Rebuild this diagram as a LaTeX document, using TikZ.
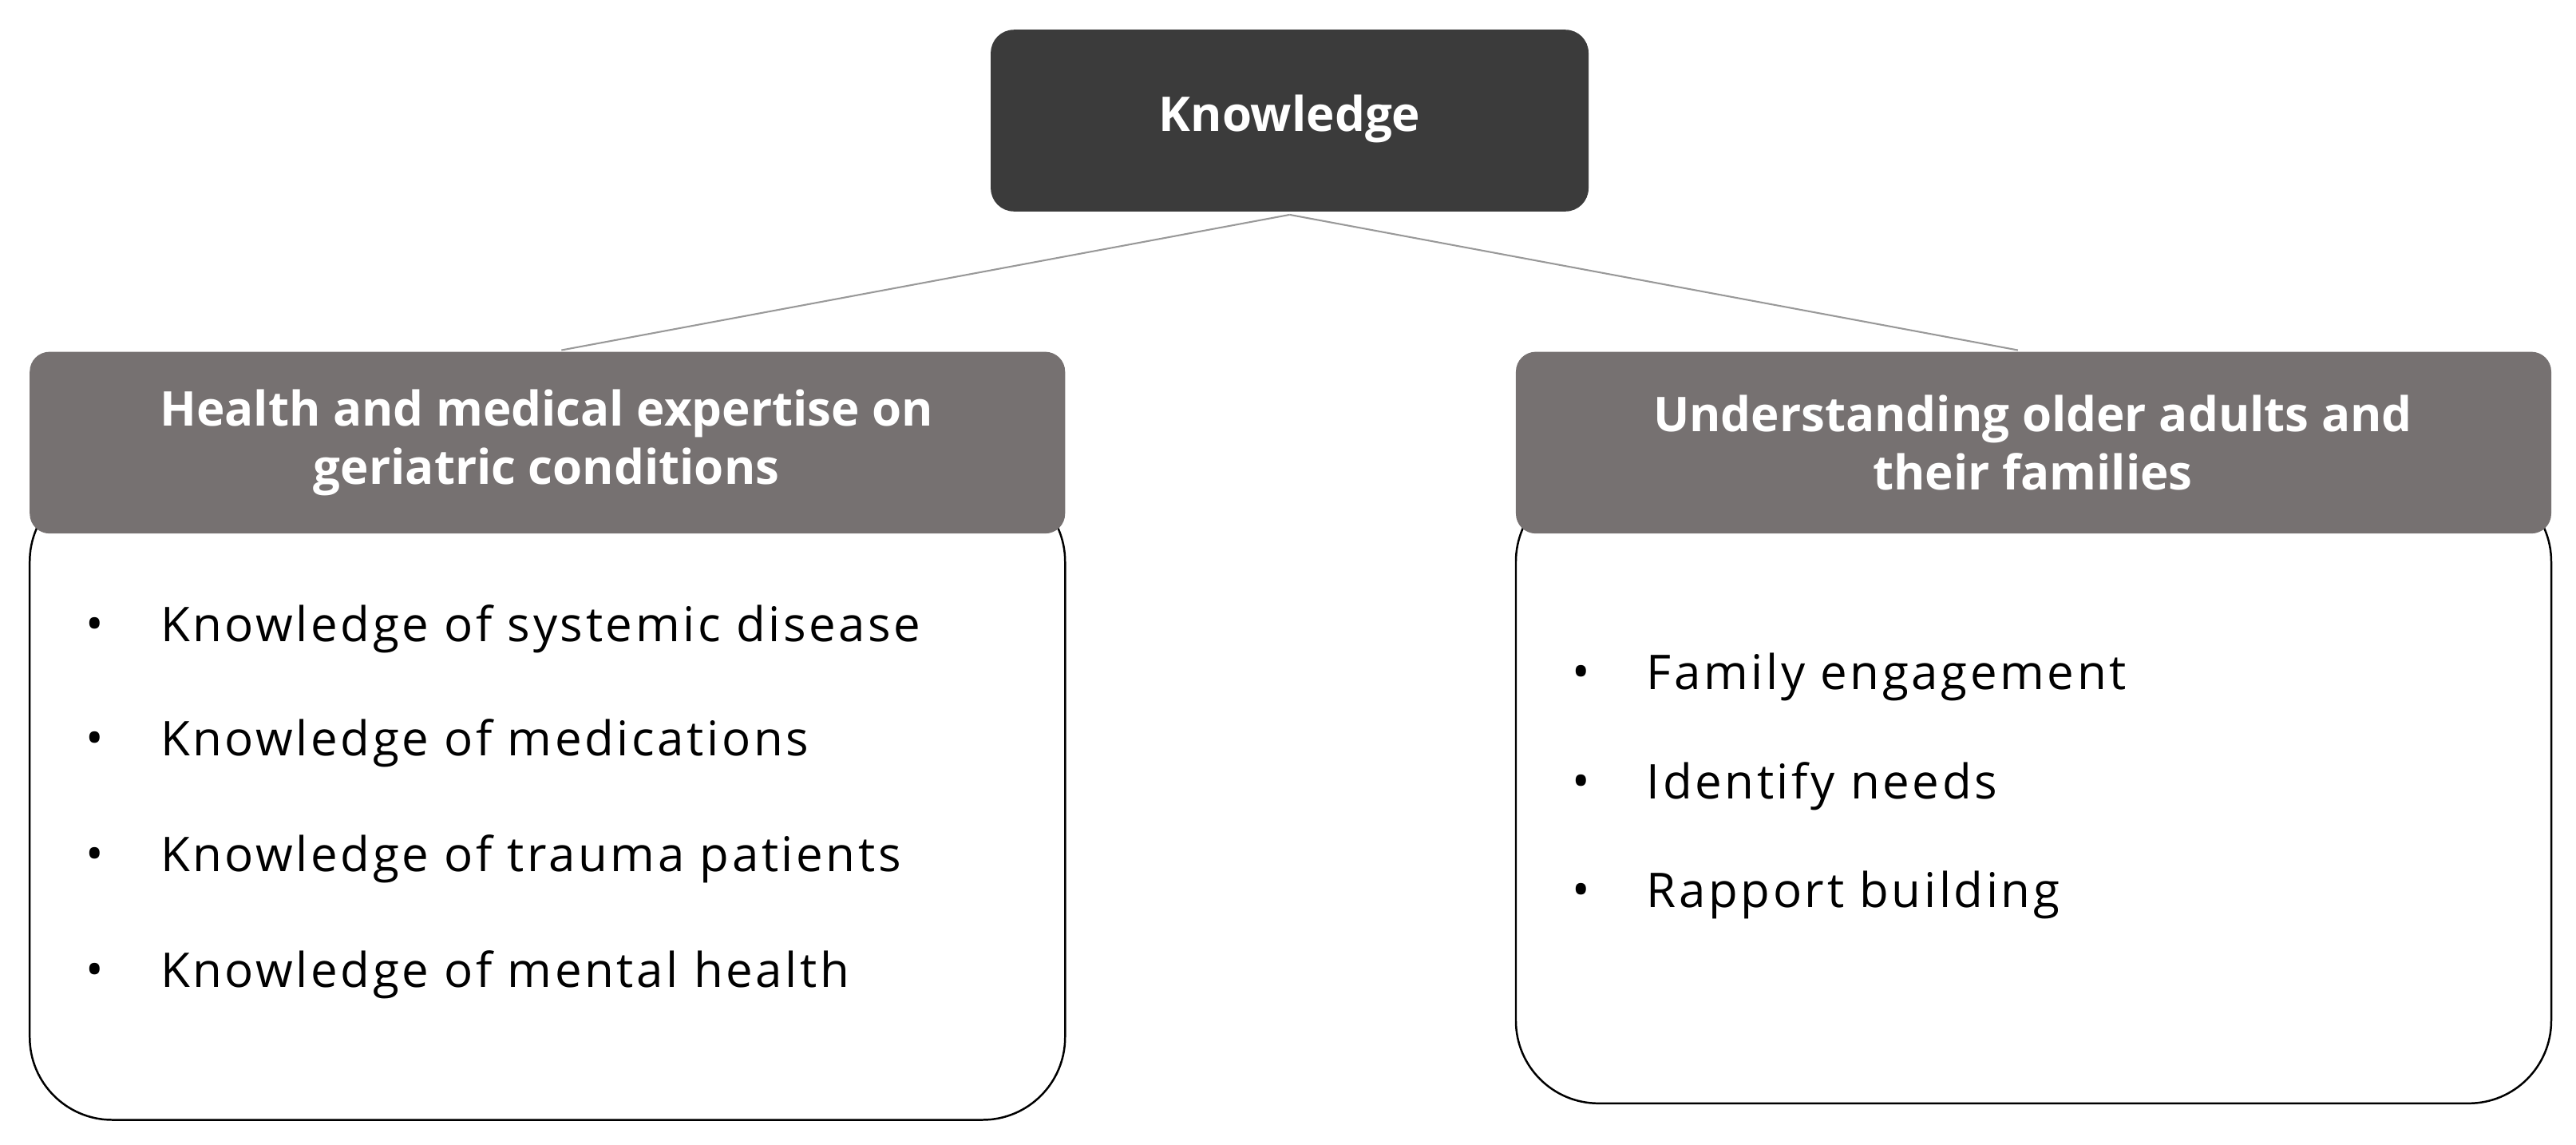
\documentclass[tikz,border=0pt]{standalone}
\usepackage{fontspec}
\setmainfont{Open Sans}
\begin{document}
\begin{tikzpicture}[x=1pt,y=-1pt,
  conn/.style={draw=gray!80,line width=1pt},
  htext/.style={text=white,font=\fontsize{29}{35}\selectfont\bfseries,align=center},
  item/.style={anchor=west,font=\fontsize{29}{34}\selectfont\addfontfeature{LetterSpace=6},inner sep=0pt}]
\definecolor{hdrgray}{HTML}{767171}
\definecolor{topgray}{HTML}{3B3B3B}
\useasboundingbox (0,0) rectangle (1560,693);
\fill[white] (0,0) rectangle (1560,693);
\draw[line width=1.2pt,fill=white,rounded corners=50pt] (18,290) rectangle (645,678);
\draw[line width=1.2pt,fill=white,rounded corners=50pt] (918,290) rectangle (1545,668);
\fill[topgray,rounded corners=14pt] (600,18) rectangle (962,128);
\node[htext] (top) at (781,72) {Knowledge};
\coordinate (tb) at (781,130);
\coordinate (lt) at (340,212);
\coordinate (rt) at (1222,212);
\draw[conn] (tb) -- (lt);
\draw[conn] (tb) -- (rt);
\fill[hdrgray,rounded corners=12pt] (18,213) rectangle (645,323);
\fill[hdrgray,rounded corners=12pt] (918,213) rectangle (1545,323);
\node[htext] (lh) at (331,268) {Health and medical expertise on\\geriatric conditions};
\node[htext] (rh) at (1231,268) {Understanding older adults and\\their families};
\foreach \y/\t in {381/Knowledge of systemic disease,450/Knowledge of medications,520/Knowledge of trauma patients,590/Knowledge of mental health}{
  \node[item] at (52,\y) {•};
  \node[item] at (97,\y) {\t};
}
\foreach \y/\t in {410/Family engagement,476/Identify needs,542/Rapport building}{
  \node[item] at (952,\y) {•};
  \node[item] at (997,\y) {\t};
}
\end{tikzpicture}
\end{document}
